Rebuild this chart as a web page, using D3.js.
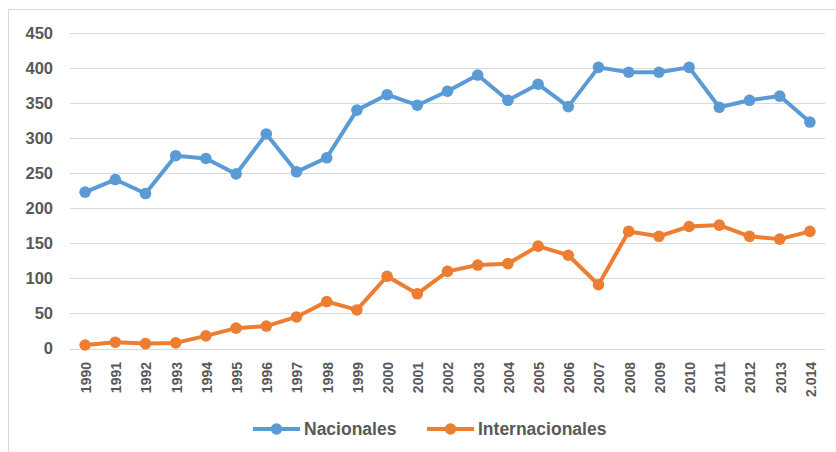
<!DOCTYPE html>
<html>
<head>
<meta charset="utf-8">
<script src="https://cdn.jsdelivr.net/npm/d3@7/dist/d3.min.js"></script>
<style>
  html, body { margin: 0; padding: 0; background: #fff; }
  svg { display: block; }
  text { font-family: "Liberation Sans", Arial, sans-serif; font-weight: bold; fill: #595959; }
</style>
</head>
<body>
<svg id="chart" width="836" height="452"></svg>
<script>
// Years on the category axis (last label keeps its original formatting)
const years = ["1990","1991","1992","1993","1994","1995","1996","1997","1998","1999",
  "2000","2001","2002","2003","2004","2005","2006","2007","2008","2009",
  "2010","2011","2012","2013","2.014"];

// Series values per year
const nacionales = [223, 241, 221, 275, 271, 249, 306, 252, 272, 340,
  362, 347, 367, 390, 354, 377, 345, 401, 394, 394,
  401, 344, 354, 360, 323];
const internacionales = [5, 9, 7, 8, 18, 29, 32, 45, 67, 55,
  103, 78, 110, 119, 121, 146, 133, 91, 167, 160,
  174, 176, 160, 156, 167];

const yTicks = [0, 50, 100, 150, 200, 250, 300, 350, 400, 450];

const seriesNames = ["Nacionales", "Internacionales"];
const seriesColors = ["#5B9BD5", "#ED7D31"];

const svg = d3.select("#chart");

// Chart frame
svg.append("rect")
  .attr("x", 8.5).attr("y", 9.5)
  .attr("width", 836).attr("height", 460)
  .attr("fill", "none").attr("stroke", "#d9d9d9").attr("stroke-width", 1);

const plot = { left: 70, right: 825, top: 33, bottom: 348.5 };

const x = d3.scaleBand().domain(years).range([plot.left, plot.right]).padding(0);
const y = d3.scaleLinear().domain([0, 450]).range([plot.bottom, plot.top]);

// Horizontal gridlines
svg.append("g")
  .selectAll("line")
  .data(yTicks)
  .join("line")
  .attr("x1", plot.left).attr("x2", plot.right)
  .attr("y1", d => Math.round(y(d)) + 0.5).attr("y2", d => Math.round(y(d)) + 0.5)
  .attr("stroke", "#d9d9d9").attr("stroke-width", 1);

// Value axis labels
const yAxis = d3.axisLeft(y).tickValues(yTicks).tickSize(0).tickPadding(0);
const gy = svg.append("g").attr("transform", "translate(53,0)").call(yAxis);
gy.select(".domain").remove();
gy.selectAll("text")
  .attr("font-size", "16.5px")
  .attr("font-family", "Liberation Sans, Arial, sans-serif")
  .attr("font-weight", "bold")
  .attr("fill", "#595959");

// Category axis labels, rotated
const xAxis = d3.axisBottom(x).tickSize(0).tickPadding(0);
const gx = svg.append("g").attr("transform", "translate(0,362)").call(xAxis);
gx.select(".domain").remove();
gx.selectAll("text")
  .attr("font-size", "14px")
  .attr("font-family", "Liberation Sans, Arial, sans-serif")
  .attr("font-weight", "bold")
  .attr("fill", "#595959")
  .attr("text-anchor", "end")
  .attr("transform", "rotate(-90)")
  .attr("x", 0).attr("y", 1).attr("dy", "0.35em");

// Lines and markers
const cx = d => x(d) + x.bandwidth() / 2;
const line = d3.line().x(d => cx(d.year)).y(d => y(d.value));

[nacionales, internacionales].forEach((vals, i) => {
  const pts = years.map((yr, j) => ({ year: yr, value: vals[j] }));
  svg.append("path")
    .datum(pts)
    .attr("d", line)
    .attr("fill", "none")
    .attr("stroke", seriesColors[i])
    .attr("stroke-width", 4)
    .attr("stroke-linejoin", "round");
  svg.append("g")
    .selectAll("circle")
    .data(pts)
    .join("circle")
    .attr("cx", d => cx(d.year))
    .attr("cy", d => y(d.value))
    .attr("r", 5.8)
    .attr("fill", seriesColors[i]);
});

// Legend
const legendItems = [
  { x0: 253, name: seriesNames[0], color: seriesColors[0] },
  { x0: 427, name: seriesNames[1], color: seriesColors[1] }
];
const ly = 429;
const lg = svg.append("g");
legendItems.forEach(it => {
  lg.append("line")
    .attr("x1", it.x0).attr("x2", it.x0 + 47)
    .attr("y1", ly).attr("y2", ly)
    .attr("stroke", it.color).attr("stroke-width", 4);
  lg.append("circle")
    .attr("cx", it.x0 + 23.5).attr("cy", ly).attr("r", 5.8)
    .attr("fill", it.color);
  lg.append("text")
    .attr("x", it.x0 + 51).attr("y", ly)
    .attr("dy", "0.35em")
    .attr("font-size", "17.5px")
    .text(it.name);
});
</script>
</body>
</html>
